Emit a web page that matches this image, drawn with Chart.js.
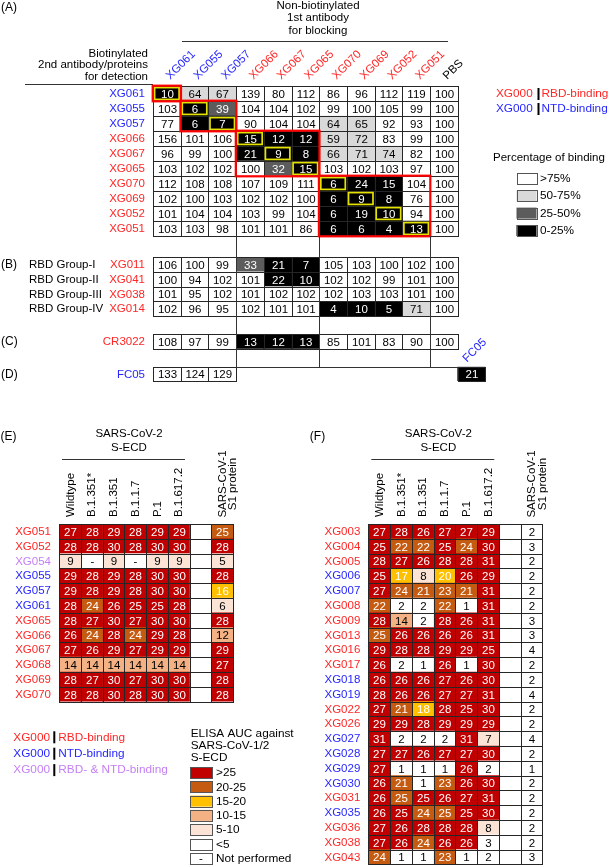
<!DOCTYPE html>
<html>
<head>
<meta charset="utf-8">
<script src="https://cdn.jsdelivr.net/npm/chart.js@4.4.0/dist/chart.umd.min.js"></script>
<style>
  html, body { margin: 0; padding: 0; background: #fff; }
  #wrap { position: relative; width: 609px; height: 867px; overflow: hidden; }
  #wrap canvas { position: absolute; left: 0; top: 0; }
</style>
</head>
<body>
<div id="wrap">
  <canvas id="chartA" width="609" height="867"></canvas>
  <canvas id="chartB" width="609" height="867"></canvas>
  <canvas id="chartC" width="609" height="867"></canvas>
  <canvas id="chartD" width="609" height="867"></canvas>
  <canvas id="chartE" width="609" height="867"></canvas>
  <canvas id="chartF" width="609" height="867"></canvas>
</div>
<script>
// ---- (A)-(D) competition ELISA, % of binding ----
var blockers = ['XG061', 'XG055', 'XG057', 'XG066', 'XG067', 'XG065', 'XG070', 'XG069', 'XG052', 'XG051', 'PBS'];
var blockerType = ['NTD', 'NTD', 'NTD', 'RBD', 'RBD', 'RBD', 'RBD', 'RBD', 'RBD', 'RBD', 'ctrl'];

var aRows = ['XG061', 'XG055', 'XG057', 'XG066', 'XG067', 'XG065', 'XG070', 'XG069', 'XG052', 'XG051'];
var aRowType = ['NTD', 'NTD', 'NTD', 'RBD', 'RBD', 'RBD', 'RBD', 'RBD', 'RBD', 'RBD'];
var aBinding = [
  [10, 64, 67, 139, 80, 112, 86, 96, 112, 119, 100],
  [103, 6, 39, 104, 104, 102, 99, 100, 105, 99, 100],
  [77, 6, 7, 90, 104, 104, 64, 65, 92, 93, 100],
  [156, 101, 106, 15, 12, 12, 59, 72, 83, 99, 100],
  [96, 99, 100, 21, 9, 8, 66, 71, 74, 82, 100],
  [103, 102, 102, 100, 32, 15, 103, 102, 103, 97, 100],
  [112, 108, 108, 107, 109, 111, 6, 24, 15, 104, 100],
  [102, 100, 103, 102, 102, 100, 6, 9, 8, 76, 100],
  [101, 104, 104, 103, 99, 104, 6, 19, 10, 94, 100],
  [103, 103, 98, 101, 101, 86, 6, 6, 4, 13, 100]
];
// epitope groups (first..last index on the diagonal)
var selfBlocks = [[0, 0], [1, 2], [3, 5], [6, 9]];

var bGroups = ['RBD Group-I', 'RBD Group-II', 'RBD Group-III', 'RBD Group-IV'];
var bRows = ['XG011', 'XG041', 'XG038', 'XG014'];
var bRowType = ['RBD', 'RBD', 'RBD', 'RBD'];
var bBinding = [
  [106, 100, 99, 33, 21, 7, 105, 103, 100, 102, 100],
  [100, 94, 102, 101, 22, 10, 102, 102, 99, 101, 100],
  [101, 95, 102, 101, 102, 102, 102, 103, 103, 101, 100],
  [102, 96, 95, 102, 101, 101, 4, 10, 5, 71, 100]
];

var cRows = ['CR3022'];
var cRowType = ['RBD'];
var cBinding = [[108, 97, 99, 13, 12, 13, 85, 101, 83, 90, 100]];

var dRows = ['FC05'];
var dRowType = ['NTD'];
var dExtraBlocker = 'FC05';
var dBinding = [[133, 124, 129, null, null, null, null, null, null, null, null, 21]];

var bindingLegend = ['>75%', '50-75%', '25-50%', '0-25%'];
var bindingPalette = ['#ffffff', '#d9d9d9', '#5c5c5c', '#000000'];

// ---- (E)(F) ELISA AUC ----
var variants = ['Wildtype', 'B.1.351*', 'B.1.351', 'B.1.1.7', 'P.1', 'B.1.617.2'];
var s1Label = ['SARS-CoV-1', 'S1 protein'];

var eRows = ['XG051', 'XG052', 'XG054', 'XG055', 'XG057', 'XG061', 'XG065', 'XG066', 'XG067', 'XG068', 'XG069', 'XG070'];
var eRowType = ['RBD', 'RBD', 'both', 'NTD', 'NTD', 'NTD', 'RBD', 'RBD', 'RBD', 'RBD', 'RBD', 'RBD'];
var eAUC = [   // null = not performed
  [27, 28, 29, 28, 29, 29],
  [28, 28, 30, 28, 30, 30],
  [9, null, 9, null, 9, 9],
  [29, 28, 29, 28, 30, 30],
  [29, 28, 29, 28, 30, 30],
  [28, 24, 26, 25, 25, 28],
  [28, 27, 30, 27, 30, 30],
  [26, 24, 28, 24, 29, 28],
  [27, 26, 29, 27, 29, 29],
  [14, 14, 14, 14, 14, 14],
  [28, 27, 30, 27, 30, 30],
  [28, 28, 30, 28, 30, 30]
];
var eS1 = [24.8, 28, 5, 28, 16, 6, 28, 12, 29, 27, 28, 28];

var fRows = ['XG003', 'XG004', 'XG005', 'XG006', 'XG007', 'XG008', 'XG009', 'XG013', 'XG016', 'XG017', 'XG018', 'XG019',
  'XG022', 'XG026', 'XG027', 'XG028', 'XG029', 'XG030', 'XG031', 'XG035', 'XG036', 'XG038', 'XG043'];
var fRowType = ['RBD', 'RBD', 'RBD', 'NTD', 'NTD', 'RBD', 'RBD', 'RBD', 'RBD', 'RBD', 'NTD', 'NTD',
  'RBD', 'RBD', 'NTD', 'NTD', 'NTD', 'NTD', 'RBD', 'NTD', 'RBD', 'RBD', 'RBD'];
var fAUC = [
  [27, 28, 26, 27, 27, 29],
  [25, 22, 22, 25, 24, 30],
  [28, 27, 26, 28, 28, 31],
  [25, 17, 8, 19.7, 26, 29],
  [27, 24, 21, 23, 21, 31],
  [22, 2, 2, 22, 1, 31],
  [28, 14, 2, 28, 26, 31],
  [24.8, 26, 26, 26, 26, 31],
  [29, 28, 28, 29, 29, 25],
  [26, 2, 1, 26, 1, 30],
  [26, 26, 26, 27, 26, 30],
  [28, 26, 26, 27, 27, 31],
  [27, 21, 18, 28, 25, 30],
  [29, 29, 28, 29, 29, 29],
  [31, 2, 2, 2, 31, 7],
  [27, 27, 26, 27, 27, 30],
  [27, 1, 1, 1, 26, 2],
  [26, 21, 1, 23, 26, 30],
  [26, 24.8, 25, 26, 27, 31],
  [26, 25, 24, 24.8, 25, 30],
  [27, 26, 28, 28, 28, 8],
  [27, 26, 24, 26, 26, 3],
  [24, 1, 1, 23, 1, 2]
];
var fS1 = [2, 3, 2, 2, 2, 2, 3, 3, 4, 2, 2, 4, 2, 2, 4, 2, 1, 2, 2, 2, 2, 2, 3];

var aucLegend = ['>25', '20-25', '15-20', '10-15', '5-10', '<5', 'Not performed'];
var aucPalette = ['#c00000', '#c55a11', '#ffc000', '#f4b183', '#fbe4d6', '#ffffff', '#ffffff'];
var typeLegend = [['RBD', 'RBD-binding'], ['NTD', 'NTD-binding'], ['both', 'RBD- & NTD-binding']];

// ---- drawing ----
var W = 609, H = 867;
var FONT = '"Liberation Sans", Arial, Helvetica, sans-serif';
var TYPE_COLOR = { RBD: '#ff2626', NTD: '#2626ff', both: '#c67ff5', ctrl: '#000000' };
var BOX = {
  A: { l: 153, r: 457.7, t: 86, b: 236 },
  B: { l: 153, r: 457.7, t: 257, b: 316.2 },
  C: { l: 153, r: 457.7, t: 334.4, b: 348.8 },
  D: { l: 153, r: 485.4, t: 366.7, b: 381 },
  E: { l: 59, r: 233, t: 524, b: 701.6 },
  F: { l: 368.3, r: 542.3, t: 524, b: 864.4 }
};

function bindingClass(v) { return v > 75 ? 0 : v > 50 ? 1 : v > 25 ? 2 : 3; }
function aucClass(v) { return v >= 25 ? 0 : v >= 20 ? 1 : v >= 15 ? 2 : v >= 10 ? 3 : v >= 5 ? 4 : 5; }

function txt(ctx, s, x, y, o) {
  o = o || {};
  ctx.save();
  ctx.font = (o.size || 11.5) + 'px ' + FONT;
  ctx.fillStyle = o.color || '#000';
  ctx.textAlign = o.align || 'left';
  ctx.textBaseline = o.base || 'middle';
  ctx.translate(x, y);
  if (o.rot) ctx.rotate(o.rot);
  ctx.fillText(s, 0, o.dy || 0);
  ctx.restore();
}

function line(ctx, x0, y0, x1, y1, w, c) {
  ctx.save();
  ctx.strokeStyle = c || '#333';
  ctx.lineWidth = w || 1;
  ctx.beginPath();
  ctx.moveTo(x0, y0);
  ctx.lineTo(x1, y1);
  ctx.stroke();
  ctx.restore();
}

function legendBox(ctx, x, y, w, h, fill) {
  ctx.fillStyle = fill;
  ctx.fillRect(x, y, w, h);
  ctx.strokeStyle = '#555';
  ctx.lineWidth = 1;
  ctx.strokeRect(Math.round(x) + 0.5, Math.round(y) + 0.5, Math.round(w), Math.round(h));
}

function cellsPlugin(lightText) {
  return {
    id: 'cells',
    afterDatasetsDraw: function (chart) {
      var ctx = chart.ctx;
      ctx.save();
      ctx.font = '11.5px ' + FONT;
      ctx.textAlign = 'center';
      ctx.textBaseline = 'middle';
      ctx.lineWidth = 1;
      ctx.strokeStyle = '#262626';
      chart.data.datasets.forEach(function (ds, di) {
        chart.getDatasetMeta(di).data.forEach(function (bar, r) {
          if (ds.data[r] == null) return;
          var p = bar.getProps(['x', 'y', 'base', 'height'], true);
          var l = Math.round(Math.min(p.x, p.base)) + 0.5;
          var rt = Math.round(Math.max(p.x, p.base)) + 0.5;
          var t = Math.round(p.y - p.height / 2) + 0.5;
          var b = Math.round(p.y + p.height / 2) + 0.5;
          ctx.strokeRect(l, t, rt - l, b - t);
          if (!ds.vals) return;
          var v = ds.vals[r];
          ctx.fillStyle = (v != null && lightText(v)) ? '#fff' : '#000';
          ctx.fillText(v == null ? '-' : String(Math.round(v)), (l + rt) / 2, (t + b) / 2 + 0.5);
        });
      });
      ctx.restore();
    }
  };
}

function rowLabelsPlugin(rows, types) {
  return {
    id: 'rowLabels',
    afterDraw: function (chart) {
      var ys = chart.scales.y, left = chart.chartArea.left;
      rows.forEach(function (name, i) {
        txt(chart.ctx, name, left - 8, ys.getPixelForValue(i) + 0.5, { align: 'right', color: TYPE_COLOR[types[i]] });
      });
    }
  };
}

function heatmap(id, box, rows, types, columns, palette, classOf, lightText, decor, skipEmpty) {
  var datasets = columns.map(function (col, c) {
    return {
      data: rows.map(function (_, r) {
        if (skipEmpty && col.vals && col.vals[r] == null) return null;
        return [c, c + 1];
      }),
      vals: col.vals,
      backgroundColor: function (ctx) {
        var v = col.vals ? col.vals[ctx.dataIndex] : null;
        return v == null ? '#ffffff' : palette[classOf(v)];
      },
      borderWidth: 0,
      grouped: false,
      barPercentage: 1,
      categoryPercentage: 1
    };
  });
  return new Chart(document.getElementById(id), {
    type: 'bar',
    data: { labels: rows, datasets: datasets },
    options: {
      indexAxis: 'y',
      responsive: false,
      animation: false,
      events: [],
      layout: { padding: { left: box.l, right: W - box.r, top: box.t, bottom: H - box.b } },
      plugins: { legend: { display: false }, tooltip: { enabled: false } },
      scales: {
        x: { type: 'linear', min: 0, max: columns.length, display: false },
        y: { type: 'category', display: false, offset: true }
      }
    },
    plugins: [cellsPlugin(lightText), rowLabelsPlugin(rows, types), decor]
  });
}

function matrixColumns(matrix, n) {
  var cols = [];
  for (var c = 0; c < n; c++) cols.push({ vals: matrix.map(function (row) { return row[c]; }) });
  return cols;
}

function bindingLight(v) { return bindingClass(v) >= 2; }
function aucLight(v) { return aucClass(v) <= 2; }

// (A)
heatmap('chartA', BOX.A, aRows, aRowType, matrixColumns(aBinding, blockers.length),
  bindingPalette, bindingClass, bindingLight, {
    id: 'decorA',
    afterDraw: function (chart) {
      var ctx = chart.ctx, xs = chart.scales.x, ys = chart.scales.y, ca = chart.chartArea;
      var rowH = (ca.bottom - ca.top) / aRows.length;
      txt(ctx, '(A)', 1, 8, { size: 12 });
      ['Non-biotinylated', '1st antibody', 'for blocking'].forEach(function (s, i) {
        txt(ctx, s, 318, 6 + i * 12.2, { align: 'center' });
      });
      line(ctx, 182, 41.5, 448, 41.5);
      ['Biotinylated', '2nd antibody/proteins', 'for detection'].forEach(function (s, i) {
        txt(ctx, s, 148, 53.5 + i * 11.8, { align: 'right' });
      });
      line(ctx, 25, 84.5, ca.left, 84.5);
      blockers.forEach(function (name, c) {
        txt(ctx, name, xs.getPixelForValue(c + 0.5) + 3.5, 80,
          { rot: -Math.PI / 4, base: 'alphabetic', color: TYPE_COLOR[blockerType[c]] });
      });
      // self-blocking cells (yellow) and epitope groups (red)
      selfBlocks.forEach(function (g) {
        for (var i = g[0]; i <= g[1]; i++) {
          var x0 = xs.getPixelForValue(i), x1 = xs.getPixelForValue(i + 1);
          var y0 = ys.getPixelForValue(i) - rowH / 2;
          ctx.strokeStyle = '#e6e200';
          ctx.lineWidth = 1.7;
          ctx.strokeRect(x0 + 1.6, y0 + 1.6, x1 - x0 - 3.2, rowH - 3.2);
        }
        var gx0 = xs.getPixelForValue(g[0]), gx1 = xs.getPixelForValue(g[1] + 1);
        var gy0 = ys.getPixelForValue(g[0]) - rowH / 2, gy1 = ys.getPixelForValue(g[1]) + rowH / 2;
        ctx.strokeStyle = '#ff0000';
        ctx.lineWidth = 2.2;
        ctx.strokeRect(gx0 - 0.3, gy0 - 0.3, gx1 - gx0 + 0.6, gy1 - gy0 + 0.6);
      });
      // binding-site legend
      typeLegend.slice(0, 2).forEach(function (it, i) {
        var y = ys.getPixelForValue(i) + 0.5, col = TYPE_COLOR[it[0]];
        txt(ctx, 'XG000', 496, y, { color: col, size: 11.8 });
        ctx.fillStyle = '#000';
        ctx.fillRect(537.5, y - 6, 2, 12);
        txt(ctx, it[1], 541.5, y, { color: col, size: 11.8 });
      });
      txt(ctx, 'Percentage of binding', 493, 158, { size: 11.5 });
      bindingLegend.forEach(function (s, i) {
        var y = 172.7 + i * 17.45;
        legendBox(ctx, 516.5, y, 20, 11, bindingPalette[i]);
        txt(ctx, s, 540, y + 6, { size: 11.8 });
      });
    }
  });

// (B)
heatmap('chartB', BOX.B, bRows, bRowType, matrixColumns(bBinding, blockers.length),
  bindingPalette, bindingClass, bindingLight, {
    id: 'decorB',
    afterDraw: function (chart) {
      var ctx = chart.ctx, ys = chart.scales.y;
      txt(ctx, '(B)', 1, ys.getPixelForValue(0) + 0.5, { size: 12 });
      bGroups.forEach(function (g, i) { txt(ctx, g, 29, ys.getPixelForValue(i) + 0.5); });
    }
  });

// (C)
heatmap('chartC', BOX.C, cRows, cRowType, matrixColumns(cBinding, blockers.length),
  bindingPalette, bindingClass, bindingLight, {
    id: 'decorC',
    afterDraw: function (chart) {
      txt(chart.ctx, '(C)', 1, chart.scales.y.getPixelForValue(0) + 0.5, { size: 12 });
    }
  });

// (D) + column separators running through (A)-(D)
heatmap('chartD', BOX.D, dRows, dRowType, matrixColumns(dBinding, blockers.length + 1),
  bindingPalette, bindingClass, bindingLight, {
    id: 'decorD',
    afterDraw: function (chart) {
      var ctx = chart.ctx, xs = chart.scales.x, ca = chart.chartArea;
      txt(ctx, '(D)', 1, chart.scales.y.getPixelForValue(0) + 0.5, { size: 12 });
      [3, 6, 10].forEach(function (c) {
        var x = Math.round(xs.getPixelForValue(c)) + 0.5;
        line(ctx, x, BOX.A.b, x, Math.round(ca.top) + 0.5, 1, '#333');
      });
      var yt = Math.round(ca.top) + 0.5;
      line(ctx, Math.round(xs.getPixelForValue(3)) + 0.5, yt, Math.round(xs.getPixelForValue(blockers.length)) + 0.5, yt, 1, '#333');
      txt(ctx, dExtraBlocker, xs.getPixelForValue(blockers.length + 0.5) - 4.5, ca.top - 4,
        { rot: -Math.PI / 4, base: 'alphabetic', color: TYPE_COLOR.NTD });
    }
  }, true);

// (E)/(F) shared header
function aucHeader(chart, tag) {
  var ctx = chart.ctx, xs = chart.scales.x, ca = chart.chartArea;
  txt(ctx, tag, ca.left - 58.5, 437, { size: 12 });
  txt(ctx, 'SARS-CoV-2', ca.left + 70, 434, { align: 'center' });
  txt(ctx, 'S-ECD', ca.left + 70, 448, { align: 'center' });
  line(ctx, ca.left + 3, 459.5, ca.left + 126, 459.5);
  variants.forEach(function (v, c) {
    txt(ctx, v, xs.getPixelForValue(c + 0.5) + 0.5, 517, { rot: -Math.PI / 2 });
  });
  var sx = xs.getPixelForValue(variants.length + 1.5);
  txt(ctx, s1Label[0], sx, 484, { rot: -Math.PI / 2, align: 'center', dy: 0.7 });
  txt(ctx, s1Label[1], sx, 484, { rot: -Math.PI / 2, align: 'center', dy: 11 });
}

function aucColumns(matrix, s1) {
  var cols = matrixColumns(matrix, variants.length);
  cols.push({ vals: null });   // empty spacer column
  cols.push({ vals: s1 });
  return cols;
}

heatmap('chartE', BOX.E, eRows, eRowType, aucColumns(eAUC, eS1), aucPalette, aucClass, aucLight, {
  id: 'decorE',
  afterDraw: function (chart) {
    var ctx = chart.ctx;
    aucHeader(chart, '(E)');
    typeLegend.forEach(function (it, i) {
      var y = 737.3 + i * 16.4, col = TYPE_COLOR[it[0]];
      txt(ctx, 'XG000', 13.3, y, { color: col, size: 11.8 });
      ctx.fillStyle = '#000';
      ctx.fillRect(53.3, y - 6, 2, 12);
      txt(ctx, it[1], 58.3, y, { color: col, size: 11.8 });
    });
    ['ELISA AUC against', 'SARS-CoV-1/2', 'S-ECD'].forEach(function (s, i) {
      txt(ctx, s, 190.7, 734 + i * 11.9, { size: 11.8 });
    });
    aucLegend.forEach(function (s, i) {
      var y = 767 + i * 14.3;
      legendBox(ctx, 190, y, 22, 11, aucPalette[i]);
      if (i === aucLegend.length - 1) txt(ctx, '-', 201, y + 6, { align: 'center' });
      txt(ctx, s, 216, y + 6, { size: 11.8 });
    });
  }
});

heatmap('chartF', BOX.F, fRows, fRowType, aucColumns(fAUC, fS1), aucPalette, aucClass, aucLight, {
  id: 'decorF',
  afterDraw: function (chart) { aucHeader(chart, '(F)'); }
});
</script>
</body>
</html>
